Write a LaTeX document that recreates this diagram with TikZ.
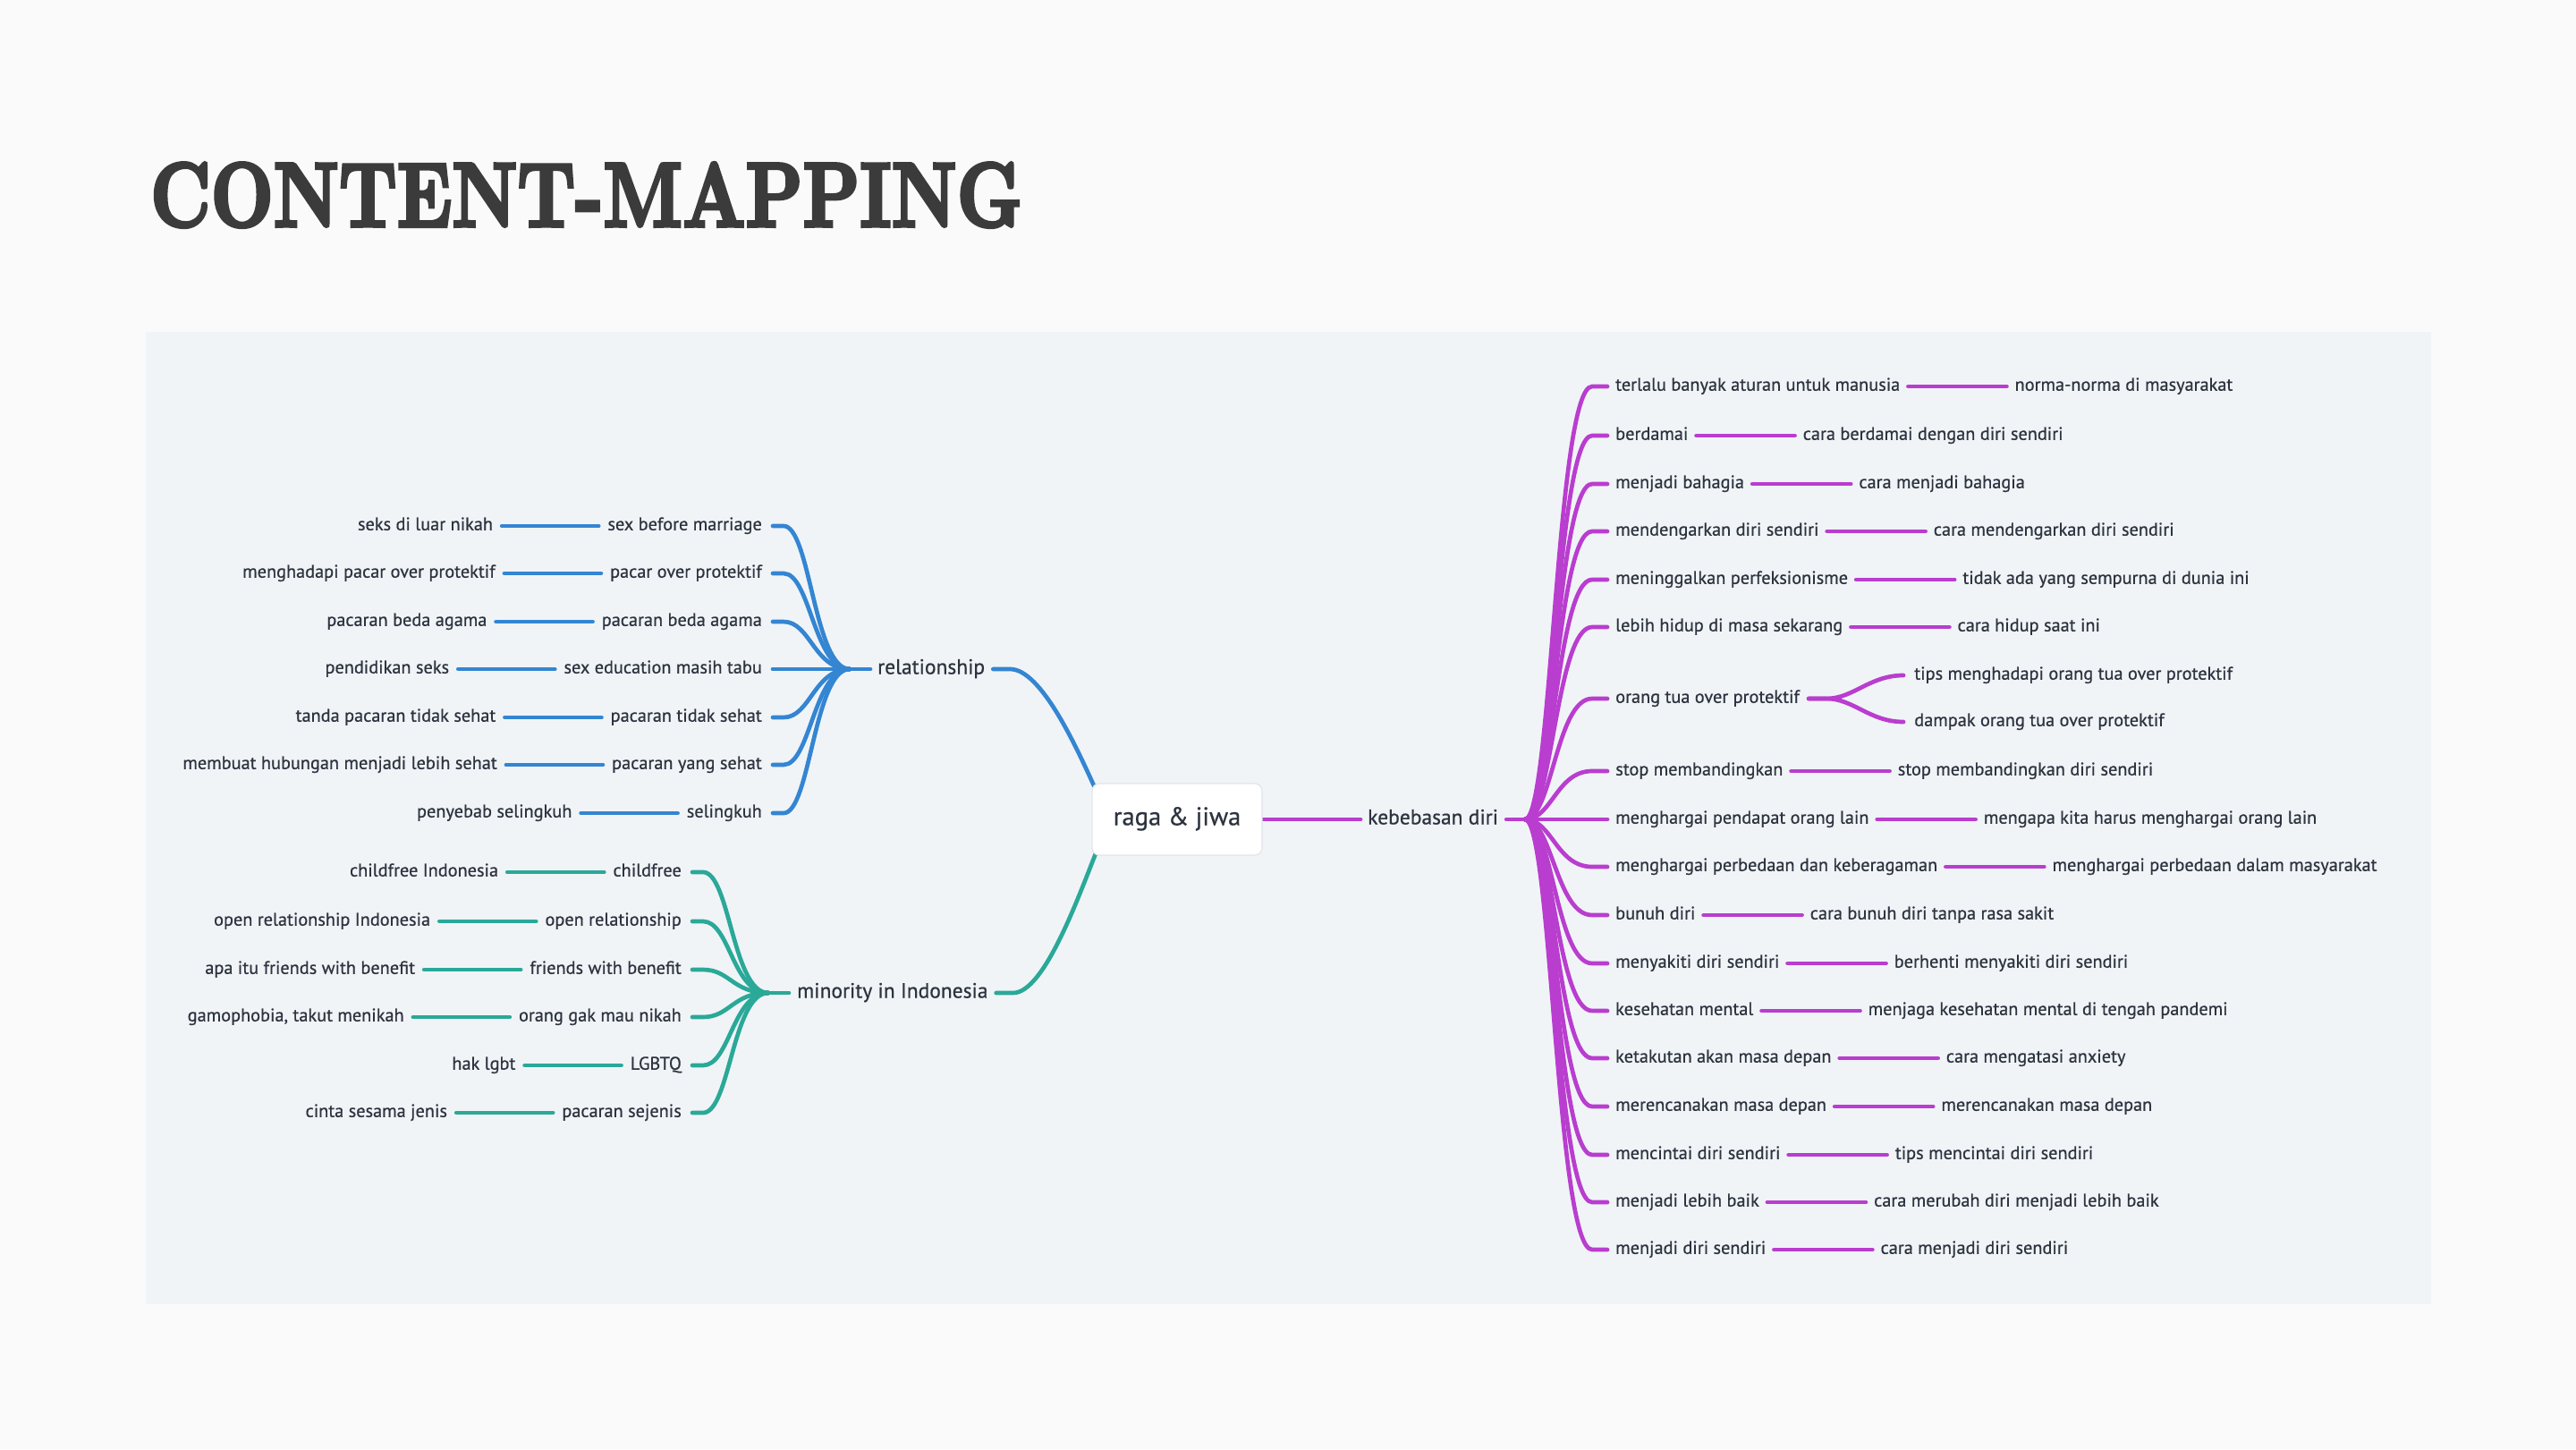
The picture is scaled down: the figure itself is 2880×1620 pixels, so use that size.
\documentclass[tikz,border=0pt]{standalone}
\usepackage{fontspec}
\usetikzlibrary{calc}
\newfontfamily\mapfont{PT Sans}[FakeBold=0.6]
\newfontfamily\titlefont{lmroman10-bold.otf}[FakeBold=4]
\definecolor{pagebg}{HTML}{FAFAFA}
\definecolor{panelbg}{HTML}{F0F4F7}
\definecolor{txt}{HTML}{2D3440}
\definecolor{blu}{HTML}{3485D2}
\definecolor{tea}{HTML}{2AA898}
\definecolor{pur}{HTML}{B93DCF}
\definecolor{ttl}{HTML}{3B3B3B}
\definecolor{boxline}{HTML}{E1E5EA}
\pgfdeclarelayer{back}
\pgfdeclarelayer{links}
\pgfsetlayers{back,links,main}
\tikzset{
  lt/.style={font=\mapfont\fontsize{20.3}{24}\selectfont, text=txt, inner sep=0pt, text height=14pt, text depth=4.5pt},
  lone/.style={font=\mapfont\fontsize{23.5}{28}\selectfont, text=txt, inner sep=0pt, text height=16pt, text depth=5pt},
  bl/.style={draw=blu, line width=4.7pt, line cap=round},
  tl/.style={draw=tea, line width=4.7pt, line cap=round},
  pl/.style={draw=pur, line width=4.7pt, line cap=round},
}
% left row: name, y, child, grandchild, style, hub, child east x
\newcommand\LRow[7]{%
  \node[lt,anchor=east] (#1) at (#7,#2) {#3};
  \node[lt,anchor=east] (#1g) at ([xshift=-128pt]#1.west) {#4};
  \begin{pgfonlayer}{links}
  \draw[#5] ([xshift=-10pt]#1.west) -- ([xshift=-118pt]#1.west);
  \draw[#5] ([xshift=12pt]#1.east) -- ([xshift=24pt]#1.east)
     .. controls ([xshift=54pt]#1.east) and ($(#6)+(-40,0)$) .. (#6);
  \end{pgfonlayer}
}
% right row: name, y, child, grandchild
\newcommand\RRow[4]{%
  \node[lt,anchor=west] (#1) at (1806,#2) {#3};
  \node[lt,anchor=west] (#1g) at ([xshift=128pt]#1.east) {#4};
  \begin{pgfonlayer}{links}
  \draw[pl] ([xshift=9pt]#1.east) -- ([xshift=119pt]#1.east);
  \draw[pl] (hubK) .. controls ($(hubK)+(30,0)$) and ([xshift=-66pt]#1.west)
     .. ([xshift=-26pt]#1.west) -- ([xshift=-9pt]#1.west);
  \end{pgfonlayer}
}
\begin{document}
\begin{tikzpicture}[x=1pt,y=-1pt]
\useasboundingbox (0,0) rectangle (2880,1620);
\begin{pgfonlayer}{back}
\fill[pagebg] (0,0) rectangle (2880,1620);
\fill[panelbg] (163,371) rectangle (2718,1458);
\end{pgfonlayer}

\node[anchor=base west, inner sep=0pt, text=ttl] (title) at (168,253)
  {\resizebox{975pt}{71pt}{\titlefont CONTENT-MAPPING}};

% root
\node[draw=boxline, line width=1.2pt, fill=white, rounded corners=8pt,
      minimum width=190pt, minimum height=80pt, inner sep=0pt,
      font=\mapfont\fontsize{28.6}{33}\selectfont, text=txt,
      text height=20pt, text depth=7pt] (root) at (1316,916) {raga \& jiwa};

% level 1
\node[lone, anchor=west] (rel) at (981,748) {relationship};
\node[lone, anchor=west] (mino) at (891,1110) {minority in Indonesia};
\node[lone, anchor=west] (keb) at (1529,916) {kebebasan diri};
\coordinate (hubR) at (950,748);
\coordinate (hubM) at (859,1110);
\coordinate (hubK) at (1705,916);

\begin{pgfonlayer}{links}
\draw[bl] ([xshift=9pt]rel.east) -- ([xshift=28pt]rel.east)
   .. controls ([xshift=63pt]rel.east) and ($(root.north west)+(-16,-38)$)
   .. ($(root.north west)+(4,6)$);
\draw[tl] ([xshift=9pt]mino.east) -- ([xshift=28pt]mino.east)
   .. controls ([xshift=63pt]mino.east) and ($(root.south west)+(-14,44)$)
   .. ($(root.south west)+(6,-6)$);
\draw[pl] (root.east) -- ([xshift=-8pt]keb.west);
\draw[pl] ([xshift=9pt]keb.east) -- (hubK);
\draw[bl] (hubR) -- ([xshift=-8pt]rel.west);
\draw[tl] (hubM) -- ([xshift=-9pt]mino.west);
\end{pgfonlayer}

% relationship branch
\LRow{a1}{588}{sex before marriage}{seks di luar nikah}{bl}{hubR}{852}
\LRow{a2}{641}{pacar over protektif}{menghadapi pacar over protektif}{bl}{hubR}{852}
\LRow{a3}{695}{pacaran beda agama}{pacaran beda agama}{bl}{hubR}{852}
\LRow{a4}{748}{sex education masih tabu}{pendidikan seks}{bl}{hubR}{852}
\LRow{a5}{802}{pacaran tidak sehat}{tanda pacaran tidak sehat}{bl}{hubR}{852}
\LRow{a6}{855}{pacaran yang sehat}{membuat hubungan menjadi lebih sehat}{bl}{hubR}{852}
\LRow{a7}{909}{selingkuh}{penyebab selingkuh}{bl}{hubR}{852}

% minority branch
\LRow{b1}{975}{childfree}{childfree Indonesia}{tl}{hubM}{762}
\LRow{b2}{1030}{open relationship}{open relationship Indonesia}{tl}{hubM}{762}
\LRow{b3}{1084}{friends with benefit}{apa itu friends with benefit}{tl}{hubM}{762}
\LRow{b4}{1137}{orang gak mau nikah}{gamophobia, takut menikah}{tl}{hubM}{762}
\LRow{b5}{1191}{LGBTQ}{hak lgbt}{tl}{hubM}{762}
\LRow{b6}{1244}{pacaran sejenis}{cinta sesama jenis}{tl}{hubM}{762}

% kebebasan branch
\RRow{r1}{432}{terlalu banyak aturan untuk manusia}{norma-norma di masyarakat}
\RRow{r2}{487}{berdamai}{cara berdamai dengan diri sendiri}
\RRow{r3}{541}{menjadi bahagia}{cara menjadi bahagia}
\RRow{r4}{594}{mendengarkan diri sendiri}{cara mendengarkan diri sendiri}
\RRow{r5}{648}{meninggalkan perfeksionisme}{tidak ada yang sempurna di dunia ini}
\RRow{r6}{701}{lebih hidup di masa sekarang}{cara hidup saat ini}

\node[lt,anchor=west] (r7) at (1806,781) {orang tua over protektif};
\node[lt,anchor=west] (r7t) at ([xshift=128pt]r7.east |- 0,755) {tips menghadapi orang tua over protektif};
\node[lt,anchor=west] (r7d) at ([xshift=128pt]r7.east |- 0,807) {dampak orang tua over protektif};
\begin{pgfonlayer}{links}
\draw[pl] (hubK) .. controls ($(hubK)+(30,0)$) and ([xshift=-66pt]r7.west)
   .. ([xshift=-26pt]r7.west) -- ([xshift=-9pt]r7.west);
\draw[pl] ([xshift=10pt]r7.east) -- ([xshift=30pt]r7.east)
   .. controls ([xshift=60pt]r7.east) and ([xshift=-50pt]r7t.west)
   .. ([xshift=-12pt]r7t.west);
\draw[pl] ([xshift=10pt]r7.east) -- ([xshift=30pt]r7.east)
   .. controls ([xshift=60pt]r7.east) and ([xshift=-50pt]r7d.west)
   .. ([xshift=-12pt]r7d.west);
\end{pgfonlayer}

\RRow{r8}{862}{stop membandingkan}{stop membandingkan diri sendiri}
\RRow{r9}{916}{menghargai pendapat orang lain}{mengapa kita harus menghargai orang lain}
\RRow{r10}{969}{menghargai perbedaan dan keberagaman}{menghargai perbedaan dalam masyarakat}
\RRow{r11}{1023}{bunuh diri}{cara bunuh diri tanpa rasa sakit}
\RRow{r12}{1077}{menyakiti diri sendiri}{berhenti menyakiti diri sendiri}
\RRow{r13}{1130}{kesehatan mental}{menjaga kesehatan mental di tengah pandemi}
\RRow{r14}{1183}{ketakutan akan masa depan}{cara mengatasi anxiety}
\RRow{r15}{1237}{merencanakan masa depan}{merencanakan masa depan}
\RRow{r16}{1291}{mencintai diri sendiri}{tips mencintai diri sendiri}
\RRow{r17}{1344}{menjadi lebih baik}{cara merubah diri menjadi lebih baik}
\RRow{r18}{1397}{menjadi diri sendiri}{cara menjadi diri sendiri}
\end{tikzpicture}
\end{document}
